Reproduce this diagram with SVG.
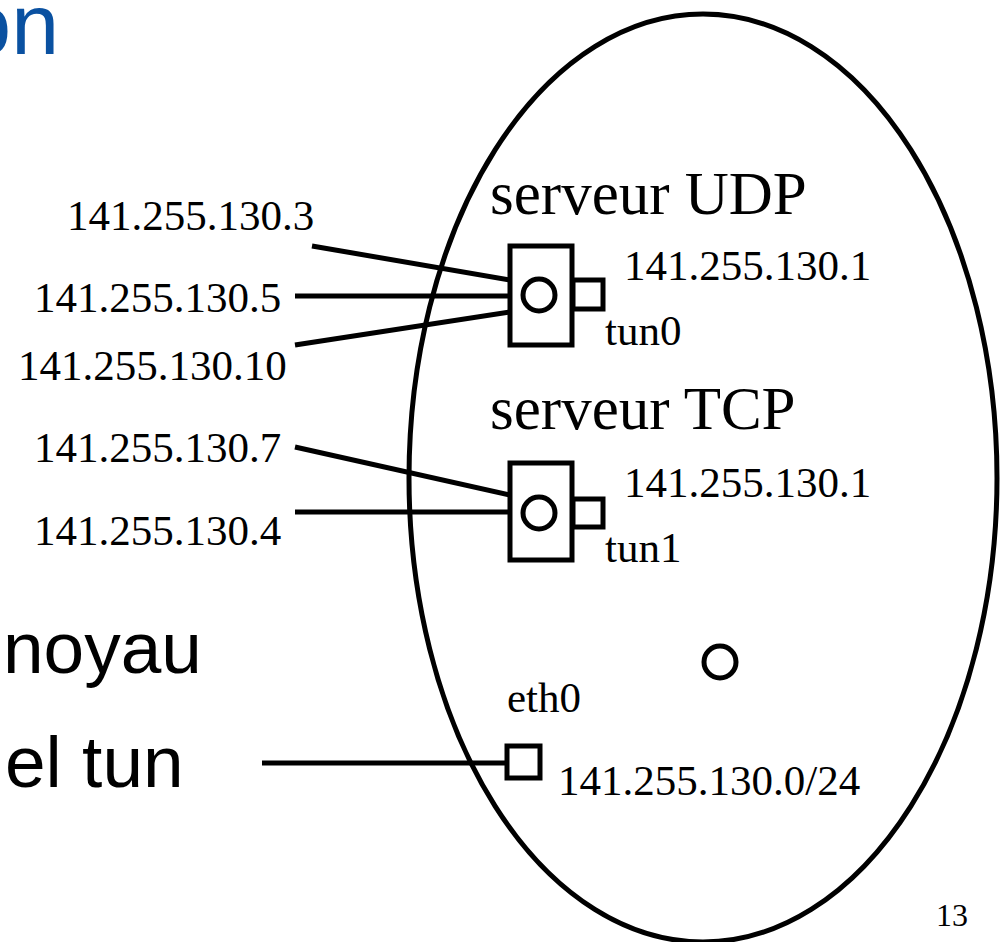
<svg xmlns="http://www.w3.org/2000/svg" width="1003" height="942" viewBox="0 0 1003 942">
<style>
.ln{stroke:#000;stroke-width:5;fill:none}
.bx{stroke:#000;stroke-width:5;fill:#fff}
.t{font-family:"Liberation Serif","Times New Roman",serif;fill:#000}
.ip{font-size:43px}
.big{font-size:61px}
.s{font-family:"Liberation Sans",Arial,sans-serif;fill:#000;font-size:73px}
</style>
<text x="59" y="54" text-anchor="end" style="font-family:'Liberation Sans',Arial,sans-serif;font-size:86px;fill:#0a51a1">on</text>
<text class="s" x="3" y="673">noyau</text>
<text class="s" x="5" y="787">el tun</text>
<ellipse id="kernel" cx="703" cy="478" rx="294" ry="464" class="ln"/>
<g id="connectors">
<line class="ln" x1="312" y1="246" x2="510" y2="280"/>
<line class="ln" x1="295" y1="296" x2="510" y2="296"/>
<line class="ln" x1="295" y1="345" x2="510" y2="312"/>
<line class="ln" x1="295" y1="447" x2="510" y2="495"/>
<line class="ln" x1="295" y1="512" x2="510" y2="512"/>
<line class="ln" x1="262" y1="763" x2="507" y2="763"/>
</g>
<g id="udp">
<text class="t big" x="490" y="214">serveur UDP</text>
<rect class="bx" x="510" y="246" width="62" height="99"/>
<circle class="ln" cx="539" cy="295" r="16"/>
<rect class="bx" x="573" y="280" width="30" height="29"/>
<text class="t ip" x="624" y="280">141.255.130.1</text>
<text class="t ip" x="605" y="345">tun0</text>
</g>
<g id="tcp">
<text class="t big" x="490" y="429">serveur TCP</text>
<rect class="bx" x="510" y="463" width="62" height="97"/>
<circle class="ln" cx="539" cy="513" r="16"/>
<rect class="bx" x="573" y="499" width="30" height="28"/>
<text class="t ip" x="624" y="497">141.255.130.1</text>
<text class="t ip" x="605" y="562">tun1</text>
</g>
<g id="core">
<circle class="ln" cx="720" cy="662" r="16"/>
</g>
<g id="eth0">
<text class="t ip" x="507" y="712">eth0</text>
<rect class="bx" x="507" y="746" width="33" height="32"/>
<text class="t ip" x="558" y="795">141.255.130.0/24</text>
</g>
<g id="clients">
<text class="t ip" x="67" y="230">141.255.130.3</text>
<text class="t ip" x="34" y="312">141.255.130.5</text>
<text class="t ip" x="18" y="380">141.255.130.10</text>
<text class="t ip" x="34" y="462">141.255.130.7</text>
<text class="t ip" x="34" y="545">141.255.130.4</text>
</g>
<text class="t" x="936" y="926" style="font-size:32px">13</text>
</svg>
